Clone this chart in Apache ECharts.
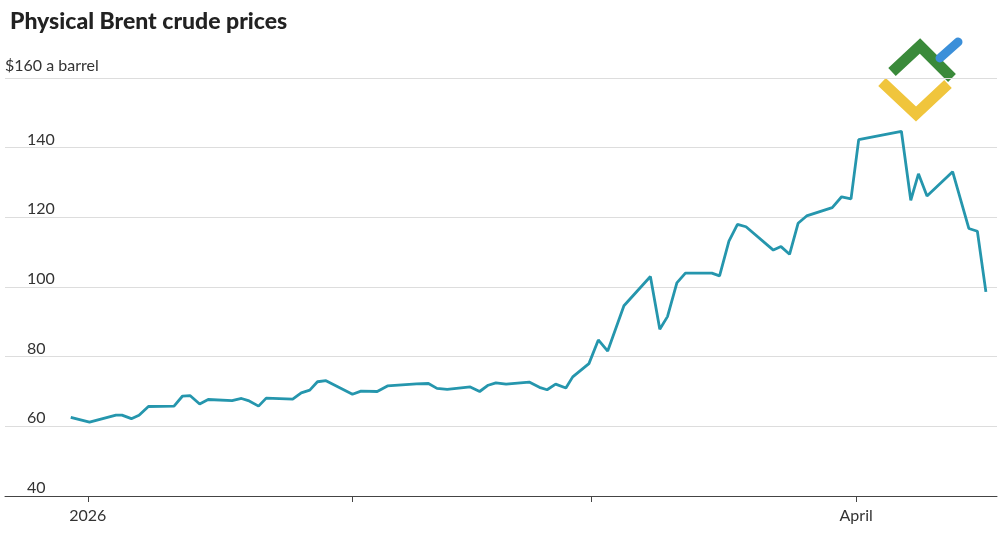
<!DOCTYPE html>
<html><head><meta charset="utf-8">
<script src="https://cdn.jsdelivr.net/npm/echarts@6/dist/echarts.min.js"></script>
<style>html,body{margin:0;padding:0;background:#fff}#c{width:1000px;height:545px}</style>
</head><body><div id="c"></div>
<script>
// days since 2026-01-01
const days = [-2,0.2,3.3,4,5.1,6,7.1,10.1,11.1,12,13.1,14.1,16.9,18,18.8,20,20.9,24,25,26,26.9,27.9,31,32,33.9,35.1,38.5,39.9,40.9,42.1,44.8,45.9,46.9,47.8,49,51.7,52.9,53.8,54.8,56,56.8,58.7,59.8,60.9,62.8,65.9,67,67.9,69,70,73.1,74,75.1,76.1,77.1,80.3,81.2,82.2,83.2,84.2,87.2,88.3,89.4,90.3,95.3,96.4,97.3,98.3,101.3,103.2,104.2,105.2];
const prices = [62.6,61.2,63.2,63.2,62.2,63.2,65.7,65.8,68.7,68.8,66.4,67.7,67.4,68.0,67.4,65.8,68.1,67.8,69.6,70.4,72.8,73.1,69.2,70.1,70.0,71.6,72.2,72.3,70.9,70.6,71.3,70.0,71.8,72.5,72.1,72.7,71.2,70.5,72.1,71.0,74.2,78.0,84.8,81.6,94.6,103.0,87.9,91.5,101.2,104.0,104.0,103.2,113.2,118.0,117.3,110.6,111.6,109.4,118.3,120.4,122.8,125.9,125.3,142.3,144.7,124.9,132.5,126.1,133.1,116.8,116.0,98.6];
const yTicks = [40,60,80,100,120,140,160];
const xTickDays = [0,31,59,90];
const xTickLabels = ['2026','','','April'];

const chart = echarts.init(document.getElementById('c'));
chart.setOption({
  animation:false,
  title:{text:'Physical Brent crude prices',left:5,top:5,textStyle:{fontFamily:'Lato',fontWeight:900,fontSize:23,color:'#222'}},
  graphic:[
    {type:'text',left:5,top:58,style:{text:'$160 a barrel',font:'16px Lato',fill:'#333'}},
    {type:'polyline',shape:{points:[[882,82],[916,114],[948,84]]},style:{stroke:'#f0c53c',lineWidth:11,fill:null}},
    {type:'polyline',shape:{points:[[892,72],[920,46],[952,78]]},style:{stroke:'#3a8a3a',lineWidth:11,fill:null}},
    {type:'line',shape:{x1:940,y1:58,x2:958,y2:42},style:{stroke:'#3b8fd9',lineWidth:9,lineCap:'round'}}
  ],
  grid:{left:5,right:3,top:78,bottom:49,containLabel:false,outerBoundsMode:'none'},
  xAxis:{type:'value',min:-9.7,max:106.5,
    axisLine:{show:true,lineStyle:{color:'#444',width:1}},
    axisTick:{show:true,customValues:xTickDays,length:6,lineStyle:{color:'#444'}},
    axisLabel:{customValues:xTickDays,formatter:v=>xTickLabels[xTickDays.indexOf(v)]||'',fontFamily:'Lato',fontSize:16,color:'#333',margin:12},
    splitLine:{show:false}},
  yAxis:{type:'value',min:40,max:160,interval:20,
    axisLine:{show:false},axisTick:{show:false},
    axisLabel:{inside:true,verticalAlign:'bottom',margin:22,fontFamily:'Lato',fontSize:16,color:'#333',
      formatter:v=>v===160?'':String(v)},
    splitLine:{lineStyle:{color:'#ddd',width:1}}},
  series:[{type:'line',data:days.map((d,i)=>[d,prices[i]]),showSymbol:false,
    lineStyle:{color:'#2596ad',width:2.8},itemStyle:{color:'#2596ad'}}]
});
</script></body></html>
